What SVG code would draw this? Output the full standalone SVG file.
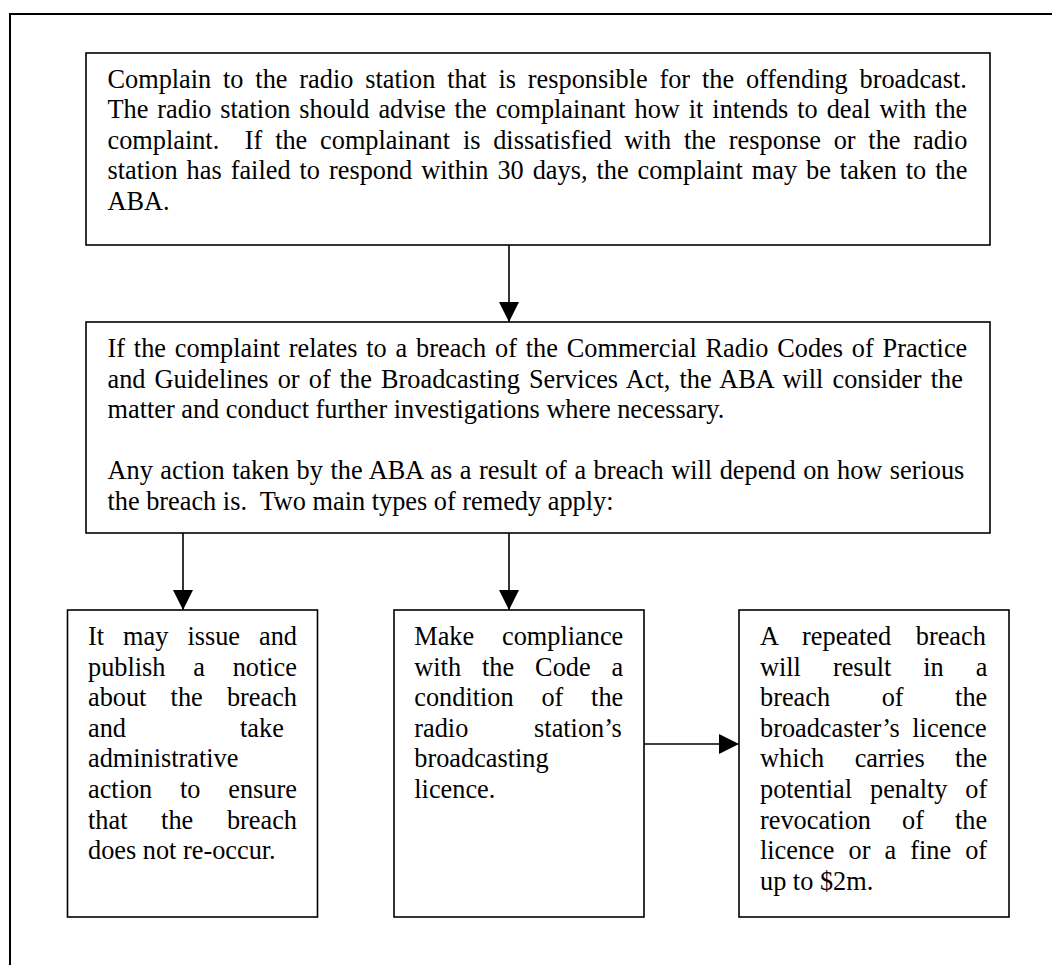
<svg xmlns="http://www.w3.org/2000/svg" width="1052" height="965" viewBox="0 0 1052 965">
<style>
.frame{fill:none;stroke:#000;stroke-width:2}
.box{fill:#fff;stroke:#000;stroke-width:1.6}
.conn{stroke:#000;stroke-width:1.6;fill:none}
.t{font-family:"Liberation Serif","Times New Roman",serif;font-size:26.3px;fill:#000}
</style>
<defs>
<marker id="ah" markerUnits="userSpaceOnUse" markerWidth="20" markerHeight="20" refX="20" refY="10" orient="auto">
<path d="M0,0 L20,10 L0,20 z" fill="#000"/>
</marker>
</defs>
<rect width="1052" height="965" fill="#fff"/>
<rect class="frame" x="10" y="14" width="1100" height="1000"/>
<g id="node-complain">
<rect class="box" x="86" y="53" width="904" height="192"/>
<text class="t" x="107.5" xml:space="preserve">
<tspan x="107.5" y="87.5" style="word-spacing:5.27px">Complain to the radio station that is responsible for the offending broadcast.</tspan>
<tspan x="107.5" y="118.1" style="word-spacing:2.37px">The radio station should advise the complainant how it intends to deal with the</tspan>
<tspan x="107.5" y="148.7" style="word-spacing:6.23px">complaint.  If the complainant is dissatisfied with the response or the radio</tspan>
<tspan x="107.5" y="179.3" style="word-spacing:2.42px">station has failed to respond within 30 days, the complaint may be taken to the</tspan>
<tspan x="107.5" y="209.9">ABA.</tspan>
</text>
</g>
<g id="node-aba">
<rect class="box" x="86" y="322" width="904" height="211"/>
<text class="t" xml:space="preserve">
<tspan x="107.5" y="357" style="word-spacing:2.27px">If the complaint relates to a breach of the Commercial Radio Codes of Practice</tspan>
<tspan x="107.5" y="387.6" style="word-spacing:2.57px">and Guidelines or of the Broadcasting Services Act, the ABA will consider the</tspan>
<tspan x="107.5" y="418.2">matter and conduct further investigations where necessary.</tspan>
<tspan x="107.5" y="479.4" style="word-spacing:0.97px">Any action taken by the ABA as a result of a breach will depend on how serious</tspan>
<tspan x="107.5" y="510">the breach is.  Two main types of remedy apply:</tspan>
</text>
</g>
<g id="node-notice">
<rect class="box" x="67.5" y="610" width="250" height="307"/>
<text class="t">
<tspan x="88" y="645" style="word-spacing:12.45px">It may issue and</tspan>
<tspan x="88" y="675.6" style="word-spacing:21.2px">publish a notice</tspan>
<tspan x="88" y="706.2" style="word-spacing:17.6px">about the breach</tspan>
<tspan x="88" y="736.8" style="word-spacing:107.5px">and take</tspan>
<tspan x="88" y="767.4">administrative</tspan>
<tspan x="88" y="798" style="word-spacing:21.2px">action to ensure</tspan>
<tspan x="88" y="828.6" style="word-spacing:27.1px">that the breach</tspan>
<tspan x="88" y="859.2">does not re-occur.</tspan>
</text>
</g>
<g id="node-compliance">
<rect class="box" x="394" y="610" width="250" height="307"/>
<text class="t">
<tspan x="414.3" y="645" style="word-spacing:21.3px">Make compliance</tspan>
<tspan x="414.3" y="675.6" style="word-spacing:14.4px">with the Code a</tspan>
<tspan x="414.3" y="706.2" style="word-spacing:21.2px">condition of the</tspan>
<tspan x="414.3" y="736.8" style="word-spacing:59.2px">radio station’s</tspan>
<tspan x="414.3" y="767.4">broadcasting</tspan>
<tspan x="414.3" y="798">licence.</tspan>
</text>
</g>
<g id="node-repeated">
<rect class="box" x="739" y="610" width="270" height="307"/>
<text class="t">
<tspan x="760" y="645" style="word-spacing:18px">A repeated breach</tspan>
<tspan x="760" y="675.6" style="word-spacing:25.4px">will result in a</tspan>
<tspan x="760" y="706.2" style="word-spacing:45px">breach of the</tspan>
<tspan x="760" y="736.8" style="word-spacing:6px">broadcaster’s licence</tspan>
<tspan x="760" y="767.4" style="word-spacing:23.8px">which carries the</tspan>
<tspan x="760" y="798" style="word-spacing:11.4px">potential penalty of</tspan>
<tspan x="760" y="828.6" style="word-spacing:24.5px">revocation of the</tspan>
<tspan x="760" y="859.2" style="word-spacing:7.5px">licence or a fine of</tspan>
<tspan x="760" y="889.8">up to $2m.</tspan>
</text>
</g>
<g id="connectors">
<line class="conn" x1="509" y1="245" x2="509" y2="322" marker-end="url(#ah)"/>
<line class="conn" x1="183" y1="533" x2="183" y2="610" marker-end="url(#ah)"/>
<line class="conn" x1="509" y1="533" x2="509" y2="610" marker-end="url(#ah)"/>
<line class="conn" x1="644" y1="744" x2="739" y2="744" marker-end="url(#ah)"/>
</g>
</svg>
